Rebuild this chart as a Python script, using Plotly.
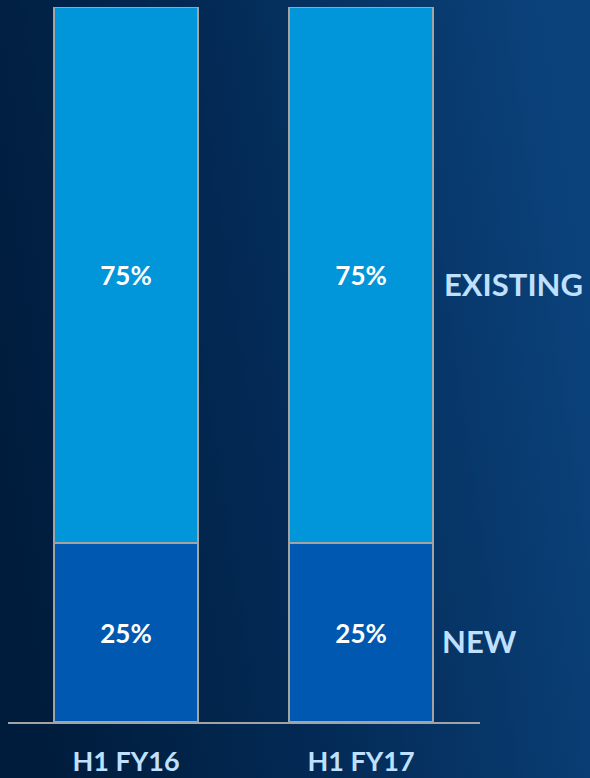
import base64
import plotly.graph_objects as go

categories = ["H1 FY16", "H1 FY17"]
new_share = [25, 25]
existing_share = [75, 75]
series_names = ["NEW", "EXISTING"]

W, H = 590, 778
ml, mr, mt, mb = 8, 110, 7, 56
pw, ph = W - ml - mr, H - mt - mb

svg = f'''<svg xmlns="http://www.w3.org/2000/svg" width="{W}" height="{H}" viewBox="0 0 {W} {H}" preserveAspectRatio="none">
<defs><linearGradient id="g" x1="0" y1="0.6" x2="1" y2="0.4">
<stop offset="0" stop-color="#001c3c"/>
<stop offset="0.45" stop-color="#032a55"/>
<stop offset="1" stop-color="#0b427b"/>
</linearGradient></defs>
<rect width="{W}" height="{H}" fill="url(#g)"/></svg>'''
src = "data:image/svg+xml;base64," + base64.b64encode(svg.encode()).decode()

line = dict(color="#a3a3a3", width=2)
pct_font = dict(color="white", size=26, family="Lato", weight="bold")
fig = go.Figure()
fig.add_trace(go.Bar(x=categories, y=new_share, name=series_names[0],
                     marker=dict(color="#0058b0", line=line),
                     text=[f"{v}%" for v in new_share], textposition="inside",
                     insidetextanchor="middle", textfont=pct_font))
fig.add_trace(go.Bar(x=categories, y=existing_share, name=series_names[1],
                     marker=dict(color="#0096d9", line=line),
                     text=[f"{v}%" for v in existing_share], textposition="inside",
                     insidetextanchor="middle", textfont=pct_font))

label_font = dict(color="#bfe0ff", size=31, family="Lato", weight="bold")
fig.add_annotation(x=(440 - ml) / pw, xref="paper", xanchor="left", y=new_share[1] / 2, yref="y",
                   text=series_names[0], showarrow=False, font=label_font, yshift=-8)
fig.add_annotation(x=(442 - ml) / pw, xref="paper", xanchor="left",
                   y=new_share[1] + existing_share[1] / 2, yref="y",
                   text=series_names[1], showarrow=False, font=label_font, yshift=-9)

fig.add_layout_image(dict(source=src, xref="paper", yref="paper",
                          x=-ml / pw, y=1 + mt / ph, sizex=W / pw, sizey=H / ph,
                          xanchor="left", yanchor="top", sizing="stretch", layer="below"))

fig.update_layout(
    width=W, height=H, margin=dict(l=ml, r=mr, t=mt, b=mb, autoexpand=False),
    barmode="stack", bargap=0.387, showlegend=False,
    paper_bgcolor="#02264b", plot_bgcolor="rgba(0,0,0,0)",
    xaxis=dict(range=[-0.502, 1.506], showline=True, linecolor="#a3a3a3", linewidth=1.5,
               showgrid=False, zeroline=False, ticks="outside", ticklen=15,
               tickcolor="rgba(0,0,0,0)", automargin=False,
               tickfont=dict(color="#bfe0ff", size=27, family="Lato", weight="bold")),
    yaxis=dict(range=[0, 100], visible=False, showgrid=False, zeroline=False, automargin=False),
)
fig.write_html("out.html")
